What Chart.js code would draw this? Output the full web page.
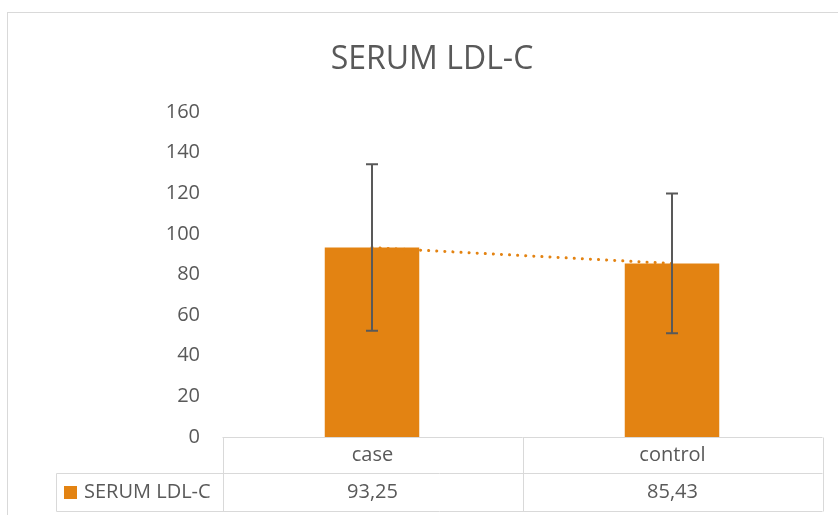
<!DOCTYPE html>
<html>
<head>
<meta charset="utf-8">
<script src="https://cdn.jsdelivr.net/npm/chart.js@4"></script>
<style>
  html, body { margin: 0; padding: 0; background: #fff; }
  #wrap { width: 838px; height: 515px; position: relative; }
</style>
</head>
<body>
<div id="wrap"><canvas id="ldlChart"></canvas></div>
<script>
const title = 'SERUM LDL-C';
const categories = ['case', 'control'];
const seriesName = 'SERUM LDL-C';
const ldlMeans = [93.25, 85.43];
const ldlSd = [41, 34.4];
const yTicks = [0, 20, 40, 60, 80, 100, 120, 140, 160];

const orange = '#E38312';
const textGrey = '#595959';
const lineGrey = '#D9D9D9';
const fontFamily = "'Open Sans', sans-serif";

const fmt = v => v.toFixed(2).replace('.', ',');

// frame, title, error bars and the data table under the plot
const extras = {
  id: 'extras',
  beforeDraw(chart) {
    const ctx = chart.ctx;
    ctx.save();
    ctx.strokeStyle = lineGrey;
    ctx.lineWidth = 1;
    ctx.strokeRect(7.5, 12.5, 900, 600);
    ctx.fillStyle = textGrey;
    ctx.font = '32px ' + fontFamily;
    ctx.textAlign = 'center';
    ctx.textBaseline = 'alphabetic';
    ctx.fillText(title, 432, 69);
    ctx.restore();
  },
  afterDatasetsDraw(chart) {
    const ctx = chart.ctx;
    const x = chart.scales.x, y = chart.scales.y;
    const area = chart.chartArea;

    ctx.save();
    ctx.strokeStyle = textGrey;
    ctx.lineWidth = 2;
    ldlMeans.forEach((m, i) => {
      const cx = Math.round(x.getPixelForValue(i));
      const top = y.getPixelForValue(m + ldlSd[i]);
      const bot = y.getPixelForValue(m - ldlSd[i]);
      ctx.beginPath();
      ctx.moveTo(cx, top); ctx.lineTo(cx, bot);
      ctx.moveTo(cx - 6, top); ctx.lineTo(cx + 6, top);
      ctx.moveTo(cx - 6, bot); ctx.lineTo(cx + 6, bot);
      ctx.stroke();
    });
    ctx.restore();

    // data table
    const left = Math.round(area.left) + 0.5;
    const right = Math.round(area.right) + 0.5;
    const row0 = Math.round(area.bottom) + 0.5;
    const row1 = row0 + 36;
    const row2 = row1 + 38;
    const legLeft = 56.5;
    const catW = (right - left) / categories.length;

    ctx.save();
    ctx.strokeStyle = lineGrey;
    ctx.lineWidth = 1;
    ctx.beginPath();
    ctx.moveTo(left, row0); ctx.lineTo(right, row0);
    ctx.moveTo(legLeft, row1); ctx.lineTo(right, row1);
    ctx.moveTo(legLeft, row2); ctx.lineTo(right, row2);
    ctx.moveTo(legLeft, row1); ctx.lineTo(legLeft, row2);
    for (let i = 0; i <= categories.length; i++) {
      const cx = Math.round(left + catW * i) + 0.5;
      ctx.moveTo(cx, row0); ctx.lineTo(cx, row2);
    }
    ctx.stroke();

    ctx.fillStyle = textGrey;
    ctx.font = '20px ' + fontFamily;
    ctx.textAlign = 'center';
    ctx.textBaseline = 'middle';
    categories.forEach((c, i) => {
      const cx = left + catW * (i + 0.5);
      ctx.fillText(c, cx, (row0 + row1) / 2);
      ctx.fillText(fmt(ldlMeans[i]), cx, (row1 + row2) / 2);
    });

    ctx.fillStyle = orange;
    ctx.fillRect(64, 486, 13, 13);
    ctx.fillStyle = textGrey;
    ctx.textAlign = 'left';
    ctx.fillText(seriesName, 84, (row1 + row2) / 2);
    ctx.restore();
  }
};

new Chart(document.getElementById('ldlChart'), {
  data: {
    labels: categories,
    datasets: [
      {
        type: 'line',
        label: 'trend',
        data: ldlMeans,
        borderColor: orange,
        borderWidth: 3,
        borderDash: [0.1, 8],
        borderCapStyle: 'round',
        pointRadius: 0,
        fill: false,
        order: 0
      },
      {
        type: 'bar',
        label: seriesName,
        data: ldlMeans,
        backgroundColor: orange,
        categoryPercentage: 1,
        barPercentage: 0.315,
        order: 1
      }
    ]
  },
  options: {
    responsive: true,
    maintainAspectRatio: false,
    animation: false,
    layout: { padding: { left: 0, right: 16, top: 112, bottom: 78 } },
    plugins: {
      legend: { display: false },
      tooltip: { enabled: false },
      title: { display: false }
    },
    scales: {
      x: {
        display: false,
        offset: true
      },
      y: {
        min: 0,
        max: 160,
        afterBuildTicks: s => { s.ticks = yTicks.map(v => ({ value: v })); },
        afterFit: s => { s.width = 222; },
        grid: { display: false, drawTicks: false },
        border: { display: false },
        ticks: {
          color: textGrey,
          padding: 22,
          font: { family: fontFamily, size: 20 }
        }
      }
    }
  },
  plugins: [extras]
});
</script>
</body>
</html>
